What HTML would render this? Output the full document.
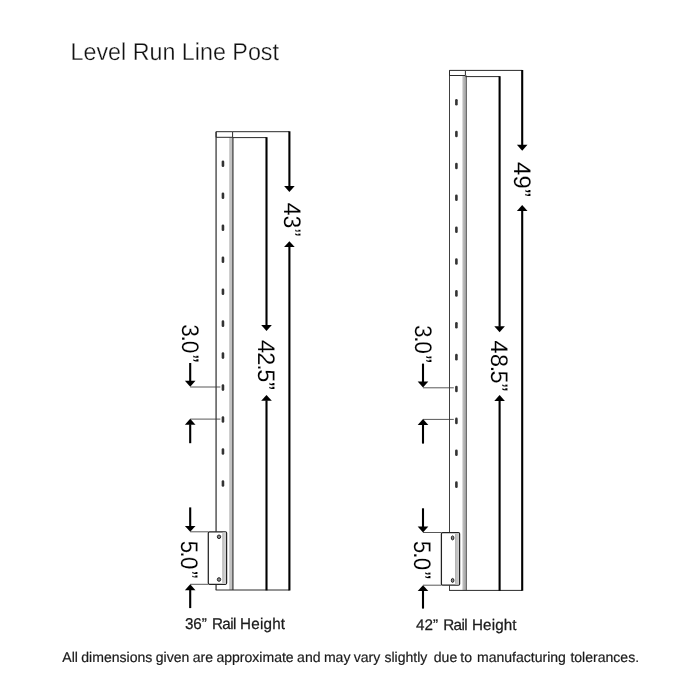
<!DOCTYPE html>
<html lang="en">
<head>
<meta charset="utf-8">
<title>Level Run Line Post</title>
<style>
html,body{margin:0;padding:0;background:#fff;}
body{width:700px;height:700px;overflow:hidden;}
svg{display:block;will-change:transform;}
text{font-family:"Liberation Sans",sans-serif;text-rendering:geometricPrecision;}
.t{stroke:#2a2a2a;stroke-width:1;fill:none;}
.l{stroke:#3a3a3a;stroke-width:0.85;fill:none;}
.k{stroke:#000;fill:none;}
</style>
</head>
<body>
<svg width="700" height="700" viewBox="0 0 700 700">
<defs><linearGradient id="sg" x1="0" y1="0" x2="1" y2="0"><stop offset="0" stop-color="#c4c4c4"/><stop offset="1" stop-color="#a0a0a0"/></linearGradient></defs>
<rect width="700" height="700" fill="#fff"/>
<text transform="translate(70.5 60) scale(0.955 1)" font-size="24.4" fill="#111" stroke="#fff" stroke-width="0.3">Level Run Line Post</text>
<g id="post36">
<rect x="229.2" y="137.3" width="3.2" height="452.7" fill="#c2c2c2"/>
<path d="M232.85 137.3V590" stroke="#686868" stroke-width="1.7" fill="none"/>
<path d="M216.1 131.7V590" stroke="#6a6a6a" stroke-width="1.7" fill="none"/>
<path class="t" d="M216.1 131.7H232.6V137.3H216.1Z"/>
<path class="t" d="M215.7 590H289.4"/>
<path class="t" d="M232.6 131.7H289.4M232.6 137.6H266.5"/>
<path class="k" stroke-width="2.1" d="M289.4 131.3V186.6"/><path d="M284.1 186.1H294.7L289.4 192Z"/>
<path class="k" stroke-width="2.1" d="M289.4 590.4V246.6"/><path d="M284.1 247.1H294.7L289.4 241.2Z"/>
<path class="k" stroke-width="2.1" d="M266.5 137.2V325.6"/><path d="M261.2 325.1H271.8L266.5 331Z"/>
<path class="k" stroke-width="2.1" d="M266.5 590.4V400.3"/><path d="M261.2 400.8H271.8L266.5 394.9Z"/>
<rect x="221.65" y="160.5" width="2.6" height="6.6" rx="1.3" fill="#333"/><rect x="221.65" y="192.47" width="2.6" height="6.6" rx="1.3" fill="#333"/><rect x="221.65" y="224.44" width="2.6" height="6.6" rx="1.3" fill="#333"/><rect x="221.65" y="256.41" width="2.6" height="6.6" rx="1.3" fill="#333"/><rect x="221.65" y="288.38" width="2.6" height="6.6" rx="1.3" fill="#333"/><rect x="221.65" y="320.35" width="2.6" height="6.6" rx="1.3" fill="#333"/><rect x="221.65" y="352.32" width="2.6" height="6.6" rx="1.3" fill="#333"/><rect x="221.65" y="384.29" width="2.6" height="6.6" rx="1.3" fill="#333"/><rect x="221.65" y="416.26" width="2.6" height="6.6" rx="1.3" fill="#333"/><rect x="221.65" y="448.23" width="2.6" height="6.6" rx="1.3" fill="#333"/><rect x="221.65" y="480.2" width="2.6" height="6.6" rx="1.3" fill="#333"/>
<path class="l" d="M190.2 387H220.35M190.2 419.1H220.35"/>
<path class="k" stroke-width="2.1" d="M190.2 363V381.3"/><path d="M184.9 380.8H195.5L190.2 386.7Z"/>
<path class="k" stroke-width="2.1" d="M190.2 443.2V424.2"/><path d="M184.9 424.7H195.5L190.2 418.8Z"/>
<rect x="208.3" y="531.8" width="18.3" height="52.5" rx="1.2" fill="#fff" stroke="#222" stroke-width="1.25"/>
<rect x="222.8" y="532.4" width="3.2" height="51.3" fill="#d0d0d0"/>
<path d="M222.8 533.3V582.8" stroke="#888" stroke-width="0.6" fill="none"/>
<ellipse cx="219" cy="536.8" rx="1.7" ry="1.8" fill="#8c8c8c" stroke="#222" stroke-width="1"/>
<ellipse cx="219" cy="579.5" rx="1.7" ry="1.8" fill="#8c8c8c" stroke="#222" stroke-width="1"/>
<path class="l" d="M190.2 531.8H208.3M190.2 584.3H208.3"/>
<path class="k" stroke-width="2.1" d="M190.2 507.4V526.4"/><path d="M184.9 525.9H195.5L190.2 531.8Z"/>
<path class="k" stroke-width="2.1" d="M190.2 608.1V589.7"/><path d="M184.9 590.2H195.5L190.2 584.3Z"/>
<text transform="translate(284 202.86) rotate(90) scale(0.96 1)" x="0 13.22 26.86" y="0" font-size="24" fill="#000" stroke="#fff" stroke-width="0.1">43”</text>
<text transform="translate(258 339.88) rotate(90) scale(0.981 1)" x="0 12.72 24.88 29.92 43.03" y="0" font-size="24" fill="#000" stroke="#fff" stroke-width="0.1">42.5”</text>
<text transform="translate(182 324.19) rotate(90) scale(0.941 1)" x="0 12.15 17.52 32.53" y="0" font-size="24" fill="#000" stroke="#fff" stroke-width="0.1">3.0”</text>
<text transform="translate(181 540.66) rotate(90) scale(0.923 1)" x="0 11.87 17.79 32.98" y="0" font-size="24" fill="#000" stroke="#fff" stroke-width="0.1">5.0”</text>
<text transform="translate(184.9 629) scale(0.976 1)" font-size="15.6" fill="#1a1a1a" stroke="#1a1a1a" stroke-width="0.25">36” <tspan dx="0.8" letter-spacing="-0.58">Rail</tspan> <tspan dx="0" letter-spacing="0.2">Height</tspan></text>
</g>
<g id="post42">
<rect x="462.4" y="75.5" width="3.8" height="514.9" fill="url(#sg)"/>
<path d="M466.45 75.5V590.4" stroke="#555" stroke-width="0.9" fill="none"/>
<path d="M449.5 70.4V590.4" stroke="#2a2a2a" stroke-width="0.9" fill="none"/>
<path class="t" d="M449.5 70.4H465.4V75.5H449.5Z"/>
<path class="t" d="M449.1 590.4H522.2"/>
<path class="t" d="M465.4 70.4H522.2M465.4 76.6H499.6"/>
<path class="k" stroke-width="2.1" d="M522.2 70V145.3"/><path d="M516.9 144.8H527.5L522.2 150.7Z"/>
<path class="k" stroke-width="2.1" d="M522.2 590.8V210.4"/><path d="M516.9 210.9H527.5L522.2 205Z"/>
<path class="k" stroke-width="2.1" d="M499.6 76.2V326.8"/><path d="M494.3 326.3H504.9L499.6 332.2Z"/>
<path class="k" stroke-width="2.1" d="M499.6 590.8V400.4"/><path d="M494.3 400.9H504.9L499.6 395Z"/>
<rect x="455.1" y="98.9" width="2.6" height="6.6" rx="1.3" fill="#333"/><rect x="455.1" y="130.77" width="2.6" height="6.6" rx="1.3" fill="#333"/><rect x="455.1" y="162.64" width="2.6" height="6.6" rx="1.3" fill="#333"/><rect x="455.1" y="194.51" width="2.6" height="6.6" rx="1.3" fill="#333"/><rect x="455.1" y="226.38" width="2.6" height="6.6" rx="1.3" fill="#333"/><rect x="455.1" y="258.25" width="2.6" height="6.6" rx="1.3" fill="#333"/><rect x="455.1" y="290.12" width="2.6" height="6.6" rx="1.3" fill="#333"/><rect x="455.1" y="321.99" width="2.6" height="6.6" rx="1.3" fill="#333"/><rect x="455.1" y="353.86" width="2.6" height="6.6" rx="1.3" fill="#333"/><rect x="455.1" y="385.73" width="2.6" height="6.6" rx="1.3" fill="#333"/><rect x="455.1" y="417.6" width="2.6" height="6.6" rx="1.3" fill="#333"/><rect x="455.1" y="449.47" width="2.6" height="6.6" rx="1.3" fill="#333"/><rect x="455.1" y="481.34" width="2.6" height="6.6" rx="1.3" fill="#333"/>
<path class="l" d="M423 387.8H453.8M423 419.4H453.8"/>
<path class="k" stroke-width="2.1" d="M423 363.6V382.1"/><path d="M417.7 381.6H428.3L423 387.5Z"/>
<path class="k" stroke-width="2.1" d="M423 443.6V424.5"/><path d="M417.7 425H428.3L423 419.1Z"/>
<rect x="441.4" y="532.5" width="18.2" height="52.7" rx="1.2" fill="#fff" stroke="#222" stroke-width="1.25"/>
<rect x="455.6" y="533.1" width="3.2" height="51.5" fill="#c4c4c4"/>
<path d="M455.6 534V583.7" stroke="#888" stroke-width="0.6" fill="none"/>
<ellipse cx="452.6" cy="537.9" rx="1.3" ry="2" fill="#8c8c8c" stroke="#222" stroke-width="1"/>
<ellipse cx="452.6" cy="580.4" rx="1.3" ry="2" fill="#8c8c8c" stroke="#222" stroke-width="1"/>
<path class="l" d="M423 532.5H441.4M423 585.2H441.4"/>
<path class="k" stroke-width="2.1" d="M423 508.3V527.1"/><path d="M417.7 526.6H428.3L423 532.5Z"/>
<path class="k" stroke-width="2.1" d="M423 608.6V590.6"/><path d="M417.7 591.1H428.3L423 585.2Z"/>
<text transform="translate(514 162.11) rotate(90) scale(0.992 1)" x="0 13.54 27.15" y="0" font-size="24" fill="#000" stroke="#fff" stroke-width="0.1">49”</text>
<text transform="translate(491 340.51) rotate(90) scale(0.969 1)" x="0 13.96 26.12 31.06 44.29" y="0" font-size="24" fill="#000" stroke="#fff" stroke-width="0.1">48.5”</text>
<text transform="translate(415 324.89) rotate(90) scale(0.941 1)" x="0 12.09 17.52 32.37" y="0" font-size="24" fill="#000" stroke="#fff" stroke-width="0.1">3.0”</text>
<text transform="translate(414 540.87) rotate(90) scale(0.936 1)" x="0 12.23 18.13 32.67" y="0" font-size="24" fill="#000" stroke="#fff" stroke-width="0.1">5.0”</text>
<text transform="translate(416.1 630) scale(0.989 1)" font-size="15.4" fill="#1a1a1a" stroke="#1a1a1a" stroke-width="0.25">42” <tspan dx="0.8" letter-spacing="-0.58">Rail</tspan> <tspan dx="0.7" letter-spacing="0.1">Height</tspan></text>
</g>
<text transform="translate(62.3 662) scale(0.996 1)" font-size="14.1" fill="#1a1a1a" stroke="#1a1a1a" stroke-width="0.2">All <tspan dx="-0.5">dimensions</tspan> <tspan dx="-0.5">given</tspan> <tspan dx="-0.5">are</tspan> <tspan dx="-0.5">approximate</tspan> <tspan dx="-0.5">and</tspan> <tspan dx="-0.5">may</tspan> <tspan dx="-0.6">vary</tspan> <tspan dx="0.2">slightly</tspan> <tspan dx="2.6">due</tspan> <tspan dx="-0.75">to</tspan> <tspan dx="0.95">manufacturing</tspan> <tspan dx="0.6">tolerances.</tspan></text>
</svg>
</body>
</html>
